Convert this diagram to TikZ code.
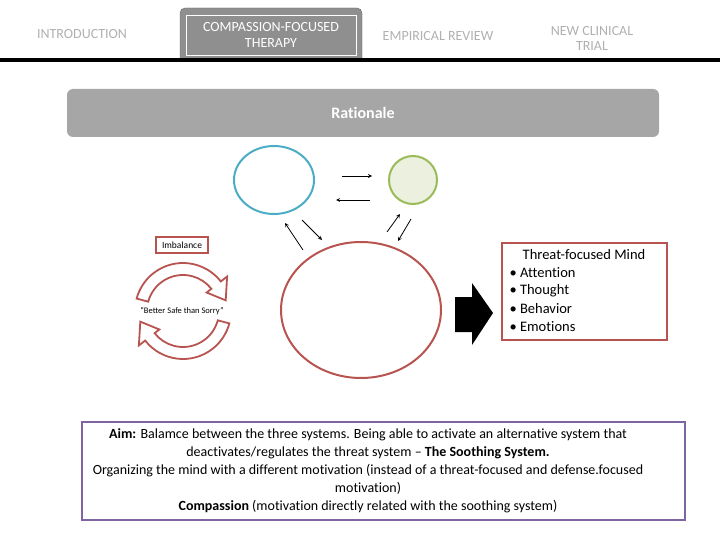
\documentclass[tikz,border=0pt]{standalone}
\usepackage{fontspec}
\setmainfont[Ligatures=NoCommon]{Carlito}
\usetikzlibrary{shapes.geometric}
\definecolor{tabg}{HTML}{8F8F8F}
\definecolor{ratg}{HTML}{A6A6A6}
\definecolor{lightt}{HTML}{B0B0B0}
\definecolor{blu}{HTML}{4BACC6}
\definecolor{grn}{HTML}{9BBB59}
\definecolor{grnf}{HTML}{EBF1DE}
\definecolor{redc}{HTML}{B85450}
\definecolor{purp}{HTML}{8064A2}
\begin{document}
\begin{tikzpicture}[x=1pt,y=-1pt,
  tabtxt/.style={text=lightt,font=\fontsize{14}{15}\selectfont,align=center},
  sarr/.style={-stealth,thick},
  body/.style={font=\fontsize{14.5}{18}\selectfont}]
\useasboundingbox (0,0) rectangle (720,540);
\node[tabtxt] (t1) at (82,34) {INTRODUCTION};
\draw[fill=tabg,draw=gray!80!black,rounded corners=5pt] (180,60) -- (180,8) -- (362,8) -- (362,60);
\node[draw=white,thick,minimum width=170pt,minimum height=40pt,text=white,align=center,font=\fontsize{14}{16}\selectfont] (t2) at (271,35) {COMPASSION-FOCUSED\\THERAPY};
\node[tabtxt] (t3) at (438,36) {EMPIRICAL REVIEW};
\node[tabtxt] (t4) at (592,38) {NEW CLINICAL\\TRIAL};
\draw[line width=4pt] (0,60) -- (720,60);
\node[fill=ratg,rounded corners=6pt,minimum width=592pt,minimum height=48pt,text=white,font=\bfseries\fontsize{16}{17}\selectfont] (rat) at (363,113) {Rationale};
\node[draw=blu,line width=2pt,ellipse,minimum width=80pt,minimum height=68pt] (b) at (274,180) {};
\node[draw=grn,fill=grnf,line width=2pt,circle,minimum size=48pt] (g) at (413,180) {};
\node[draw=redc,line width=2pt,ellipse,minimum width=160pt,minimum height=136pt] (r) at (361,310) {};
\coordinate (a1) at (342,176); \coordinate (a2) at (372,176);
\coordinate (a3) at (370,200); \coordinate (a4) at (336,200);
\coordinate (a5) at (303,250); \coordinate (a6) at (285,223);
\coordinate (a7) at (302,220); \coordinate (a8) at (322,240);
\coordinate (a9) at (387,232); \coordinate (a10) at (400,214);
\coordinate (a11) at (411,219); \coordinate (a12) at (398,241);
\draw[sarr] (a1) -- (a2); \draw[sarr] (a3) -- (a4);
\draw[sarr] (a5) -- (a6); \draw[sarr] (a7) -- (a8);
\draw[sarr] (a9) -- (a10); \draw[sarr] (a11) -- (a12);
\node[draw=redc,line width=2pt,minimum width=52pt,minimum height=16pt,font=\fontsize{9.5}{10}\selectfont] (imb) at (182,245) {Imbalance};
\node[font=\fontsize{8.5}{9}\selectfont] (bs) at (182,311) {“Better Safe than Sorry”};
\begin{scope}[shift={(183,311)},yscale=-1]
\draw[redc,line width=1.8pt,fill=white,line join=miter]
  (165:36) arc[start angle=165,end angle=38,radius=36] -- (38:30) -- (14:44) -- (38:56) -- (38:48) arc[start angle=38,end angle=165,radius=48] -- cycle;
\draw[redc,line width=1.8pt,fill=white,line join=miter]
  (-15:36) arc[start angle=-15,end angle=-142,radius=36] -- (-142:30) -- (-166:44) -- (-142:56) -- (-142:48) arc[start angle=-142,end angle=-15,radius=48] -- cycle;
\end{scope}
\fill[black] (455,297) -- (472,297) -- (472,283) -- (493,313) -- (472,345) -- (472,332) -- (455,332) -- cycle;
\node[draw=redc,line width=1.5pt,minimum width=165pt,minimum height=97pt] (tm) at (584.5,291.5) {};
\node[body] (tmt) at (584,255) {Threat-focused Mind};
\node[body,anchor=west] (l1) at (506,273) {• Attention};
\node[body,anchor=west] (l2) at (506,291) {• Thought};
\node[body,anchor=west] (l3) at (506,309) {• Behavior};
\node[body,anchor=west] (l4) at (506,327) {• Emotions};
\node[draw=purp,line width=2pt,minimum width=603pt,minimum height=98pt] (aim) at (383.5,471) {};
\node[font=\fontsize{14}{18}\selectfont,align=center] (aimt) at (368,471) {\textbf{Aim:} Balamce between the three systems. Being able to activate an alternative system that\\deactivates/regulates the threat system -- \textbf{The Soothing System.}\\Organizing the mind with a different motivation (instead of a threat-focused and defense.focused\\motivation)\\\textbf{Compassion} (motivation directly related with the soothing system)};
\end{tikzpicture}
\end{document}
